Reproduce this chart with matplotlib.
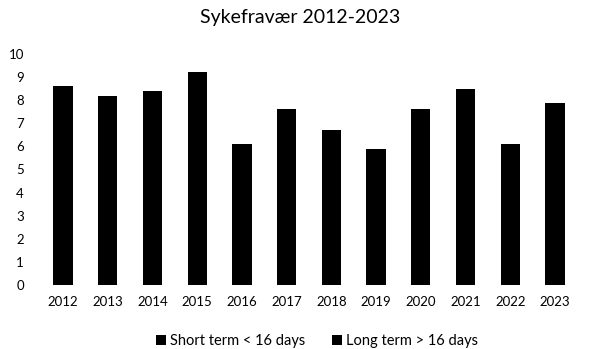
import matplotlib.pyplot as plt

plt.rcParams['font.family'] = ['Lato', 'DejaVu Sans']

years = ['2012', '2013', '2014', '2015', '2016', '2017',
         '2018', '2019', '2020', '2021', '2022', '2023']
total = [8.6, 8.2, 8.4, 9.2, 6.1, 7.6, 6.7, 5.9, 7.6, 8.5, 6.1, 7.9]
short_term = [1.8, 1.7, 1.8, 1.9, 1.6, 1.7, 1.7, 1.6, 1.8, 2.0, 2.1, 2.0]
long_term = [t - s for t, s in zip(total, short_term)]

fig = plt.figure(figsize=(5.95, 3.49), dpi=100)
ax = fig.add_axes([40.6 / 595, 1 - 285 / 349, (577.4 - 40.6) / 595, (285 - 54) / 349])

x = range(len(years))
ax.bar(x, short_term, width=0.43, color='black', label='Short term < 16 days')
ax.bar(x, long_term, width=0.43, bottom=short_term, color='black',
       label='Long term > 16 days')

ax.set_xlim(-0.5, len(years) - 0.5)
ax.set_ylim(0, 10)
ax.set_yticks(range(0, 11))
ax.set_xticks(list(x))
ax.set_xticklabels(years)
ax.tick_params(length=0, labelsize=9.5, colors='black')
ax.tick_params(axis='y', pad=12)
ax.tick_params(axis='x', pad=8)
for s in ax.spines.values():
    s.set_visible(False)

fig.text(0.504, 1 - 18 / 349, 'Sykefravær 2012-2023', ha='center', va='center', fontsize=14)
fig.legend(loc='center', bbox_to_anchor=(0.533, 1 - 341 / 349), ncol=2, frameon=False,
           fontsize=10.5, handlelength=0.7, handleheight=0.7, columnspacing=1.8,
           handletextpad=0.3)

plt.savefig('out.png')
